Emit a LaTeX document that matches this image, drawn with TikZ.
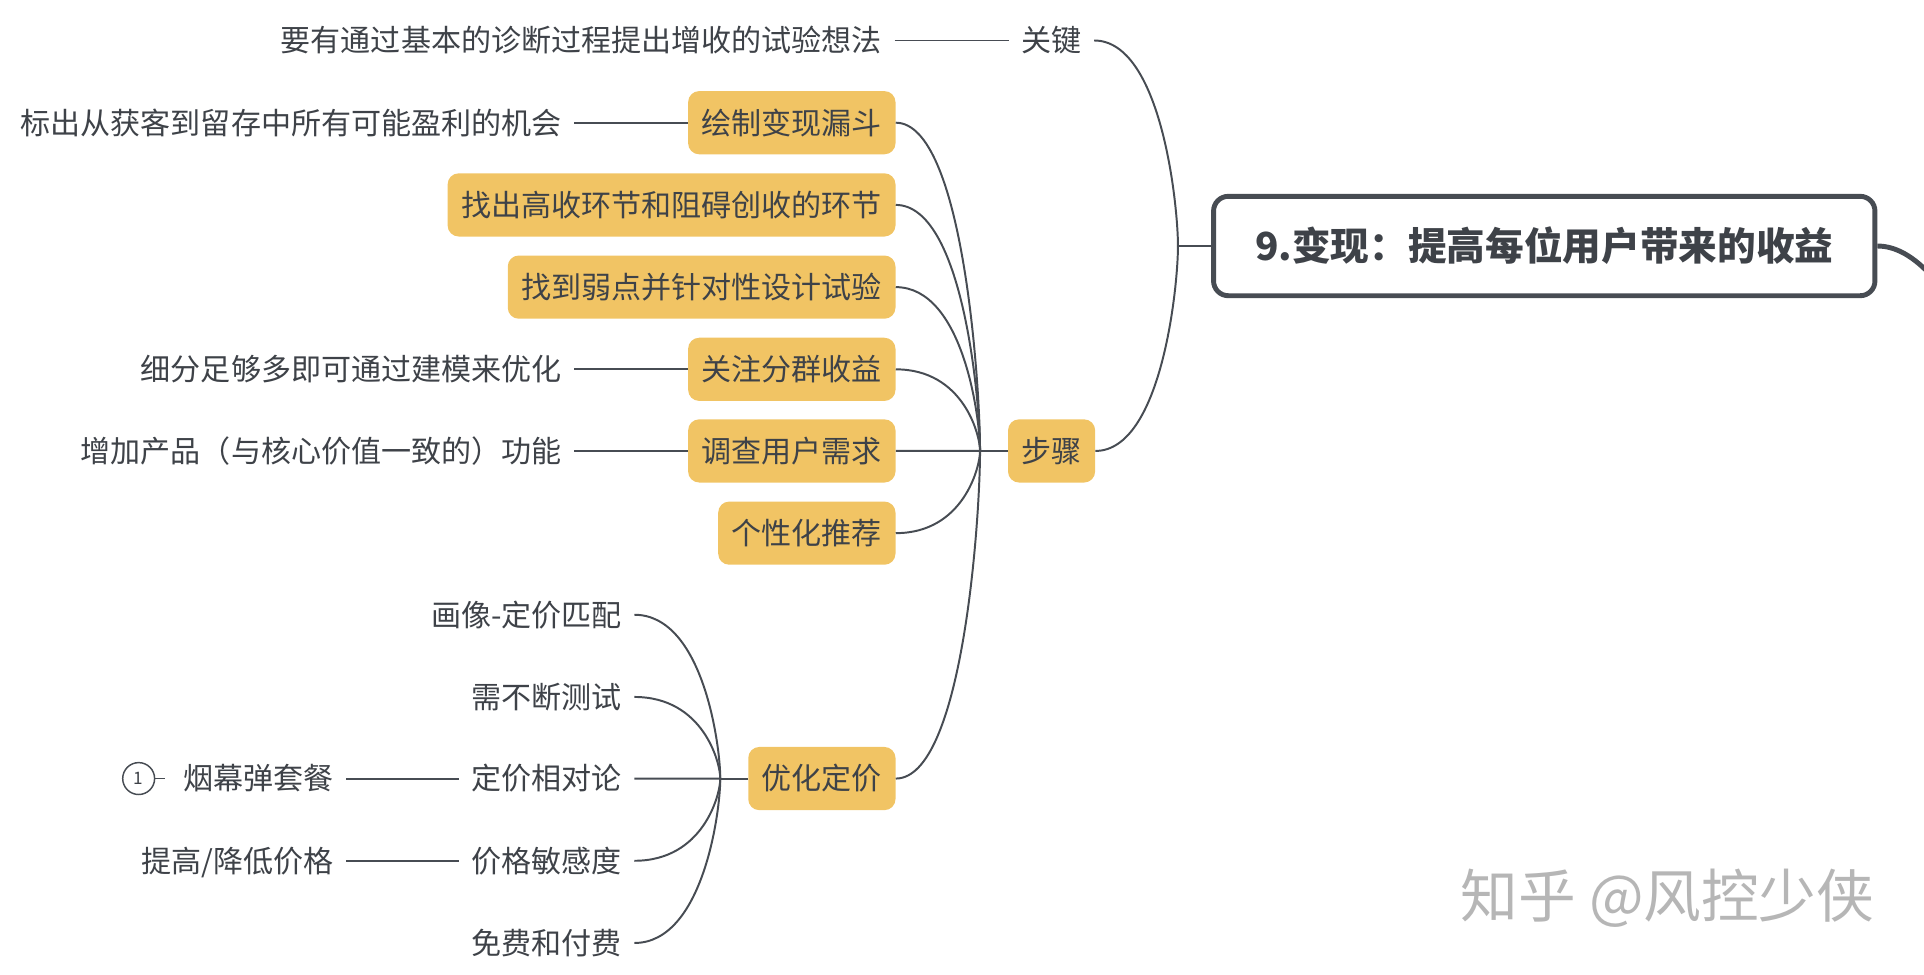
\documentclass[tikz,border=0pt]{standalone}
\usepackage{fontspec}
\newfontfamily\cjk{Noto Sans CJK SC}
\usepackage{xcolor}
\usepackage{tikz}
\usetikzlibrary{calc}
\definecolor{topicline}{RGB}{71,76,83}
\definecolor{topictext}{RGB}{62,66,72}
\definecolor{topicfill}{RGB}{241,196,100}
\definecolor{marktext}{RGB}{182,182,182}

\begin{document}
\begin{tikzpicture}[x=1pt,y=1pt,yscale=-1,xscale=1,
	every node/.style={font=\cjk\fontsize{24.5}{29}\selectfont, text=topictext, inner sep=0pt, text height=21.5pt, text depth=3pt},
	leaf/.style={inner xsep=10pt},
	topic/.style={fill=topicfill, rounded corners=9pt, inner xsep=11pt, minimum height=51.5pt},
	link/.style={draw=topicline, line width=1.6pt},
	branch/.style={link, to path={.. controls ($(\tikztostart)!0.8!(\tikztostart -| \tikztotarget)$) and ($(\tikztotarget)!0.2!(\tikztostart -| \tikztotarget)$) .. (\tikztotarget) \tikztonodes}}]
		\useasboundingbox (0,0) rectangle (1568,793.8);
		
		%Shape: Rounded Rect
		\node [draw=topicline, fill=white, line width=4pt, rounded corners=12pt, minimum width=539pt, minimum height=81pt, font=\cjk\bfseries\fontsize{31.5}{37}\selectfont, text height=27.7pt, text depth=3.8pt] (title) at (1258.5,200.5) {9.变现：提高每位用户带来的收益};
		
		\coordinate (jn0) at (960,200.5);
		\coordinate (jn1) at (798.7,367.5);
		\coordinate (jn2) at (587,634.5);
		\coordinate (up) at (1620,300);
		
		% Text Node
		\node [leaf] (key) at (857,33) {关键};
		\node [leaf, anchor=east] (keytip) at (729,33) {要有通过基本的诊断过程提出增收的试验想法};
		\node [topic] (step) at (857,367.5) {步骤};
		
		% Text Node
		\node [topic, anchor=east] (funnel) at (730,100) {绘制变现漏斗};
		\node [topic, anchor=east] (high) at (730,167) {找出高收环节和阻碍创收的环节};
		\node [topic, anchor=east] (weak) at (730,234) {找到弱点并针对性设计试验};
		\node [topic, anchor=east] (group) at (730,301) {关注分群收益};
		\node [topic, anchor=east] (need) at (730,367.5) {调查用户需求};
		\node [topic, anchor=east] (recom) at (730,434.5) {个性化推荐};
		\node [topic, anchor=east] (price) at (730,634.5) {优化定价};
		
		% Text Node
		\node [leaf, anchor=east] (chance) at (468,100) {标出从获客到留存中所有可能盈利的机会};
		\node [leaf, anchor=east] (model) at (468,301) {细分足够多即可通过建模来优化};
		\node [leaf, anchor=east] (feature) at (468,367.5) {增加产品（与核心价值一致的）功能};
		
		% Text Node
		\node [leaf, anchor=east] (match) at (517,501) {画像-定价匹配};
		\node [leaf, anchor=east] (test) at (517,568) {需不断测试};
		\node [leaf, anchor=east] (relat) at (517,634.5) {定价相对论};
		\node [leaf, anchor=east] (sens) at (517,701.5) {价格敏感度};
		\node [leaf, anchor=east] (free) at (517,768.5) {免费和付费};
		\node [leaf, anchor=east] (smoke) at (282,634.5) {烟幕弹套餐};
		\node [leaf, anchor=east] (raise) at (282,701.5) {提高/降低价格};
		\node [circle, draw=topicline, line width=1.2pt, minimum size=26pt, font=\cjk\fontsize{14}{16}\selectfont, text height=10pt, text depth=0pt] (fold) at (113,634.5) {1};
		
		% Text Node
		\node [text=marktext, font=\cjk\fontsize{47}{52}\selectfont, text height=41.4pt, text depth=5.6pt] (mark) at (1359,730) {知乎 @风控少侠};
		
		%Straight Lines
		\draw [link] (title.west) -- (jn0);
		\draw [link] (keytip.east) -- (key.west);
		\draw [link] (step.west) -- (jn1);
		\draw [link] (chance.east) -- (funnel.west);
		\draw [link] (model.east) -- (group.west);
		\draw [link] (feature.east) -- (need.west);
		\draw [link] (price.west) -- (jn2);
		\draw [link] (smoke.east) -- (relat.west);
		\draw [link] (raise.east) -- (sens.west);
		\draw [link, line width=1.2pt, shorten >=5pt] (fold) -- (smoke.west);
		
		%Curve Lines
		\draw [branch] (key.east) to (jn0);
		\draw [branch] (step.east) to (jn0);
		\foreach \n in {funnel,high,weak,group,need,recom,price}
			\draw [branch] (\n.east) to (jn1);
		\foreach \n in {match,test,relat,sens,free}
			\draw [branch] (\n.east) to (jn2);
		\draw [draw=topicline, line width=4pt] (title.east) .. controls (1560,200.5) and (1590,235) .. (up);
\end{tikzpicture}
\end{document}
